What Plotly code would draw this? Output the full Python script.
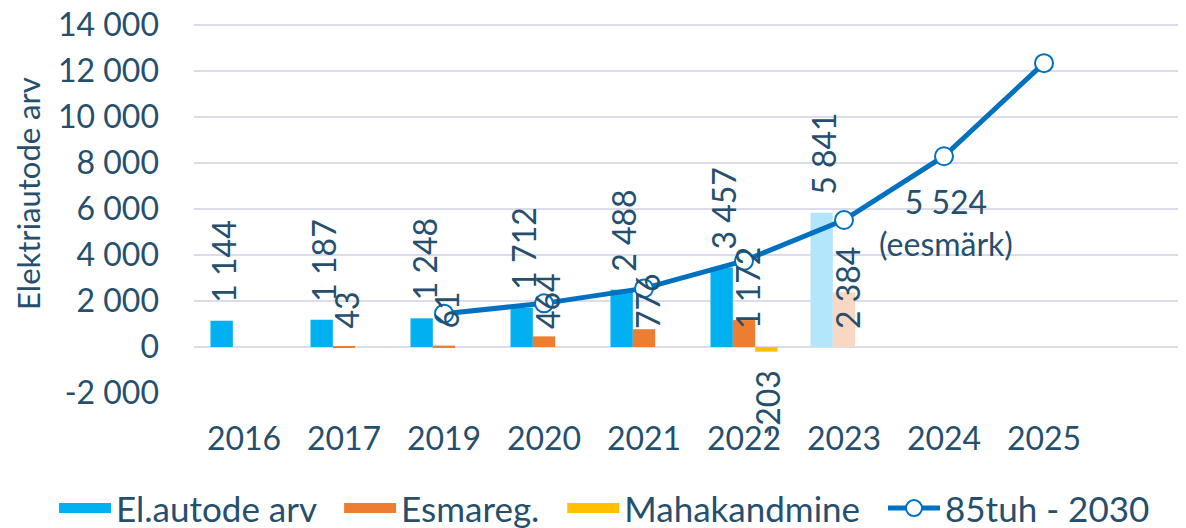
import plotly.graph_objects as go

categories = ["2016", "2017", "2019", "2020", "2021", "2022", "2023", "2024", "2025"]
ev_count = [1144, 1187, 1248, 1712, 2488, 3457, 5841, None, None]
esmareg = [None, 43, 61, 464, 776, 1172, 2384, None, None]
mahakandmine = [None, None, None, None, None, -203, None, None, None]
target_85k = [None, None, 1450, 1900, 2550, 3750, 5524, 8300, 12350]
target_label_cat = "2023"
target_label_text = "5 524<br>(eesmärk)"
y_title = "Elektriautode arv"
y_ticks = [-2000, 0, 2000, 4000, 6000, 8000, 10000, 12000, 14000]

TXT = "#264f6e"
FONT = "Lato"
FS = 32
BLUE, BLUE_F = "#00B0F0", "#B3E6FA"
ORANGE, ORANGE_F = "#ED7D31", "#F8D8C3"
YELLOW = "#FFC000"
LINE = "#0070C0"
PAD = "\u00a0\u00a0"


def fmt(v):
    return f"{v:,}".replace(",", " ")


faded = [c == "2023" for c in categories]

fig = go.Figure()
fig.add_trace(go.Bar(x=categories, y=ev_count, name="El.autode arv", showlegend=False,
                     marker=dict(color=[BLUE_F if f else BLUE for f in faded], line_width=0)))
fig.add_trace(go.Bar(x=categories, y=esmareg, name="Esmareg.", showlegend=False,
                     marker=dict(color=[ORANGE_F if f else ORANGE for f in faded], line_width=0)))
fig.add_trace(go.Bar(x=categories, y=mahakandmine, name="Mahakandmine", showlegend=False,
                     marker=dict(color=YELLOW, line_width=0)))
fig.add_trace(go.Scatter(x=categories, y=target_85k, name="85tuh - 2030", mode="lines+markers",
                         showlegend=False,
                         line=dict(color=LINE, width=5),
                         marker=dict(symbol="circle", size=18, color="white",
                                     line=dict(color=LINE, width=2))))
# legend proxies (wide colour swatches like the original)
for nm, col in [("El.autode arv", BLUE), ("Esmareg.", ORANGE), ("Mahakandmine", YELLOW)]:
    fig.add_trace(go.Scatter(x=[None], y=[None], name=nm + PAD, mode="lines",
                             line=dict(color=col, width=22)))
fig.add_trace(go.Scatter(x=[None], y=[None], name="85tuh - 2030", mode="lines+markers",
                         line=dict(color=LINE, width=5),
                         marker=dict(symbol="circle", size=17, color="white",
                                     line=dict(color=LINE, width=2))))

ann = []
for i, v in enumerate(ev_count):
    if v is not None:
        ann.append(dict(x=i, y=v, text=fmt(v), textangle=-90, showarrow=False,
                        xanchor="center", yanchor="bottom", xshift=-20, yshift=16))
for i, v in enumerate(esmareg):
    if v is not None:
        ann.append(dict(x=i, y=0, text=fmt(v), textangle=-90, showarrow=False,
                        xanchor="center", yanchor="bottom", xshift=3, yshift=16))
for i, v in enumerate(mahakandmine):
    if v is not None:
        ann.append(dict(x=i, y=v, text=fmt(v), textangle=-90, showarrow=False,
                        xanchor="center", yanchor="top", xshift=24, yshift=-16))
idx = categories.index(target_label_cat)
ann.append(dict(x=idx, y=target_85k[idx], text=target_label_text, showarrow=False,
                xanchor="center", yanchor="middle", xshift=102, yshift=-2))
# y-axis title (placed like the original, slightly above centre)
ann.append(dict(xref="paper", yref="paper", x=-0.166, y=0.528, text=y_title,
                textangle=-90, showarrow=False, xanchor="center", yanchor="middle",
                font=dict(size=FS - 1, color=TXT)))

# page body has an 8px default margin: compensate so the plot sits where the original does
fig.update_layout(
    width=1186, height=540,
    margin=dict(l=186, r=0, t=8, b=155),
    paper_bgcolor="white", plot_bgcolor="white",
    font=dict(family=FONT, size=FS, color=TXT),
    barmode="group", bargap=0.33, bargroupgap=0,
    annotations=ann,
    showlegend=True,
    legend=dict(orientation="h", xref="paper", yref="paper",
                x=-0.14, xanchor="left", y=-0.306, yanchor="middle",
                font=dict(size=35, color=TXT, family=FONT), traceorder="normal",
                itemwidth=52, bgcolor="rgba(0,0,0,0)"),
)
fig.update_xaxes(type="category", range=[-0.5, 9.5], showgrid=False, showline=False,
                 ticks="", ticklabelstandoff=24, tickfont=dict(size=FS, color=TXT),
                 automargin=False)
fig.update_yaxes(range=[-2000, 14400], tickvals=y_ticks, ticktext=[fmt(t) for t in y_ticks],
                 showgrid=True, gridcolor="#DCDCEA", gridwidth=1.5,
                 zeroline=True, zerolinecolor="#DCDCEA", zerolinewidth=1.5,
                 showline=False, ticks="", ticklabelstandoff=34, ticklabeloverflow="allow",
                 tickfont=dict(size=FS, color=TXT), automargin=False)

fig.write_html("out.html")
